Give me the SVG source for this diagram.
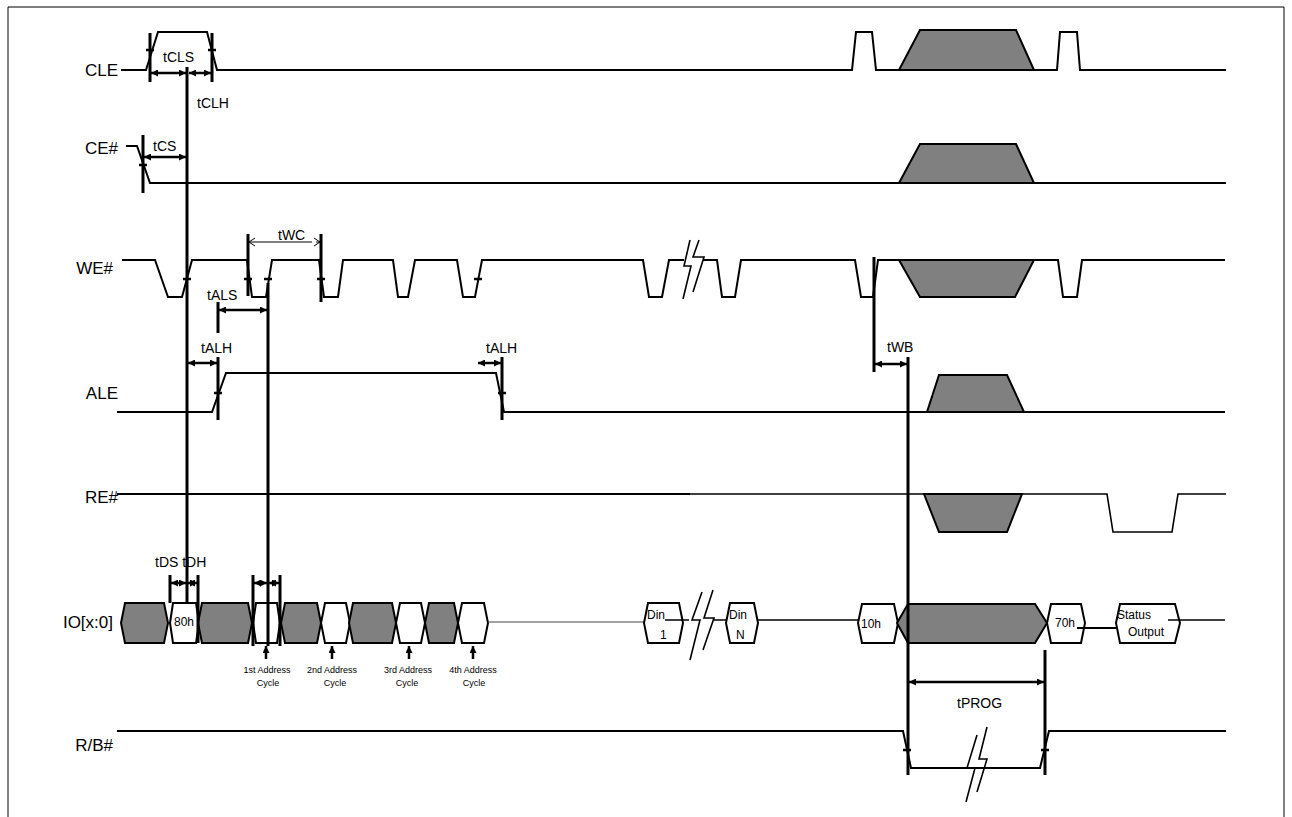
<svg xmlns="http://www.w3.org/2000/svg" width="1292" height="817" viewBox="0 0 1292 817">
<defs>
<marker id="ah" viewBox="0 0 7 7" refX="7" refY="3.5" markerWidth="7" markerHeight="7" markerUnits="userSpaceOnUse" orient="auto-start-reverse"><path d="M0,0 L7,3.5 L0,7 z" fill="#000"/></marker>
</defs>
<style>
.sig{fill:none;stroke:#000;stroke-width:2;stroke-linejoin:miter}
.thin{fill:none;stroke:#000;stroke-width:1.6}
.hair{fill:none;stroke:#444;stroke-width:1}
.gray{fill:#808080;stroke:#000;stroke-width:2}
.hexw{fill:#fff;stroke:#000;stroke-width:2}
.mk{fill:none;stroke:#000;stroke-width:3}
.tk{fill:none;stroke:#000;stroke-width:2.5}
.arr{fill:none;stroke:#000;stroke-width:2.5;marker-start:url(#ah);marker-end:url(#ah)}
.up{fill:none;stroke:#000;stroke-width:2.5;marker-end:url(#ah)}
.brk{fill:none;stroke:#000;stroke-width:1.6}
.lbl{font-family:"Liberation Sans",Arial,sans-serif;font-size:17px;fill:#000;text-anchor:end}
.t{font-family:"Liberation Sans",Arial,sans-serif;font-size:14px;fill:#000}
.s{font-family:"Liberation Sans",Arial,sans-serif;font-size:12px;fill:#000}
.a{font-family:"Liberation Sans",Arial,sans-serif;font-size:9px;fill:#000;text-anchor:middle}
</style>
<rect width="1292" height="817" fill="#fff"/>
<path d="M8,817 V7 H1284 V817" fill="none" stroke="#000" stroke-width="1"/>

<g id="CLE">
<text class="lbl" x="118" y="76">CLE</text>
<path class="sig" d="M121,70 H146 L158,32 H207 L217,70 H852 L856,32 H872 L876,70 H1057 L1060,32 H1077 L1080,70 H1226"/>
<path class="gray" d="M899,70 L920,30 H1016 L1034,70 Z"/>
</g>

<g id="CE">
<text class="lbl" x="118" y="154">CE#</text>
<path class="sig" d="M126,146 H137 L150,183 H1226"/>
<path class="gray" d="M899,183 L920,144 H1016 L1034,183 Z"/>
</g>

<g id="WE">
<text class="lbl" x="113" y="274">WE#</text>
<path class="sig" d="M122,260 H155 L168,297 H182 L192,260 H247 L252,297 H266 L272,260 H319 L324,297 H338 L343,260 H393 L398,297 H408 L415,260 H457 L463,297 H475 L482,260 H643 L649,297 H662 L669,260 H684"/>
<path class="sig" d="M703,260 H717 L722,297 H735 L741,260 H855 L861,297 H873 L878,260 H1058 L1063,297 H1077 L1082,260 H1225"/>
<path class="gray" d="M899,260 L920,297 H1015 L1034,260 Z"/>
<path class="brk" d="M690,240 L684,266 L691,266 L683,299"/>
<path class="brk" d="M699,240 L693,257 L704,257 L693,292"/>
</g>

<g id="ALE">
<text class="lbl" x="118" y="399">ALE</text>
<path class="sig" d="M117,412 H212 L226,373 H496 L504,412 H1225"/>
<path class="gray" d="M927,412 L939,375 H1007 L1024,412 Z"/>
</g>

<g id="RE">
<text class="lbl" x="118" y="503">RE#</text>
<path class="sig" stroke-width="2.6" d="M117,494 H690"/>
<path class="thin" d="M690,494 H1107 L1113,532 H1172 L1178,494 H1226"/>
<path class="gray" d="M924,494 L939,532 H1007 L1022,494 Z"/>
</g>

<g id="IO">
<text class="lbl" x="113" y="628">IO[x:0]</text>
<path class="gray" d="M121,623 L125,603 H164 L168,623 L164,643 H125 Z"/>
<path class="hexw" d="M170,623 L173,603 H196 L199,623 L196,643 H173 Z"/>
<path class="gray" d="M198,623 L202,603 H248 L252,623 L248,643 H202 Z"/>
<path class="hexw" d="M253,623 L256,603 H277 L280,623 L277,643 H256 Z"/>
<path class="gray" d="M281,623 L285,603 H317 L321,623 L317,643 H285 Z"/>
<path class="hexw" d="M321,623 L325,603 H346 L350,623 L346,643 H325 Z"/>
<path class="gray" d="M349,623 L353,603 H392 L396,623 L392,643 H353 Z"/>
<path class="hexw" d="M396,623 L400,603 H421 L425,623 L421,643 H400 Z"/>
<path class="gray" d="M425,623 L429,603 H454 L458,623 L454,643 H429 Z"/>
<path class="hexw" d="M458,623 L462,603 H484 L488,623 L484,643 H462 Z"/>
<path class="hair" d="M488,622 H644"/>
<path class="hexw" d="M644,623 L648,603 H679 L683,623 L679,643 H648 Z"/>
<path class="thin" d="M665,620 H689 M713,620 H726"/>
<path class="hexw" d="M726,623 L730,603 H754 L758,623 L754,643 H730 Z"/>
<path class="thin" d="M758,620 H858"/>
<path class="hexw" d="M858,623 L862,604 H894 L898,623 L894,643 H862 Z"/>
<path class="gray" d="M897,623 L908,604 H1035 L1047,623 L1035,643 H908 Z"/>
<path class="hexw" d="M1047,623 L1051,604 H1081 L1085,623 L1081,643 H1051 Z"/>
<path class="sig" stroke-width="1.6" d="M1077,628 H1116"/>
<path class="hexw" d="M1116,623 L1120,604 H1175 L1180,623 L1175,643 H1120 Z"/>
<path class="thin" d="M1168,620 H1225"/>
<path class="brk" d="M702,592 L692,620 L700,620 L690,660"/>
<path class="brk" d="M713,590 L704,618 L714,618 L703,650"/>
<text class="s" x="184" y="626" text-anchor="middle" font-size="10">80h</text>
<text class="s" x="647" y="619">Din</text>
<text class="s" x="660" y="639">1</text>
<text class="s" x="729" y="619">Din</text>
<text class="s" x="736" y="639">N</text>
<text class="s" x="861" y="628">10h</text>
<text class="s" x="1055" y="627">70h</text>
<text class="s" x="1117" y="619">Status</text>
<text class="s" x="1128" y="636">Output</text>
<text class="a" x="267" y="673">1st Address</text>
<text class="a" x="268" y="686">Cycle</text>
<text class="a" x="332" y="673">2nd Address</text>
<text class="a" x="335" y="686">Cycle</text>
<text class="a" x="408" y="673">3rd Address</text>
<text class="a" x="407" y="686">Cycle</text>
<text class="a" x="473" y="673">4th Address</text>
<text class="a" x="474" y="686">Cycle</text>
</g>

<g id="RB">
<text class="lbl" x="113" y="751">R/B#</text>
<path class="sig" stroke-width="2.6" d="M117,731 H528"/>
<path class="sig" d="M528,731 H903 L911,768 H1040 L1049,731 H1226"/>
<path class="brk" d="M977,735 L967,768 L975,768 L966,802"/>
<path class="brk" d="M987,727 L979,759 L987,759 L977,792"/>
</g>

<g id="connectors">
<path class="mk" d="M187,67 V603 M268,283 V646 M908,357 V775 M1045,650 V775 M874,257 V372"/>
<path class="mk" d="M150,33 V82 M212,33 V82 M143,135 V193 M218,357 V420 M502,357 V420 M218,302 V333 M248,234 V296 M321,234 V302"/>
<path class="mk" d="M170,575 V603 M198,575 V643 M253,575 V646 M280,575 V646"/>
<path class="tk" d="M146,50 H154 M208,50 H216 M139,165 H147 M183,279 H191 M244,279 H252 M264,279 H272 M317,279 H325 M474,279 H482 M214,393 H222 M498,393 H506 M903,750 H911 M1041,750 H1049"/>
<path class="arr" d="M151,73 H186"/>
<path class="arr" d="M189,73 H211"/>
<path class="arr" d="M144,157 H186"/>
<path class="arr" d="M219,310 H267"/>
<path class="arr" d="M188,363 H217"/>
<path class="arr" d="M478,363 H501"/>
<path class="arr" d="M875,364 H907"/>
<path class="arr" d="M171,583 H186"/>
<path class="arr" d="M188,583 H197"/>
<path class="arr" d="M254,583 H267"/>
<path class="arr" d="M269,583 H279"/>
<path class="arr" d="M909,682 H1044"/>
<path d="M249,242 H312 M316,242 H320" fill="none" stroke="#000" stroke-width="1"/>
<path d="M255,238 L249,242 L255,246 M314,238 L320,242 L314,246" fill="none" stroke="#000" stroke-width="1"/>
<path class="up" d="M266,659 V646"/>
<path class="up" d="M332,659 V646"/>
<path class="up" d="M409,659 V646"/>
<path class="up" d="M473,659 V646"/>
<text class="t" x="163" y="62">tCLS</text>
<text class="t" x="197" y="108">tCLH</text>
<text class="t" x="153" y="151">tCS</text>
<text class="t" x="278" y="240">tWC</text>
<text class="t" x="207" y="300">tALS</text>
<text class="t" x="201" y="353">tALH</text>
<text class="t" x="486" y="353">tALH</text>
<text class="t" x="887" y="352">tWB</text>
<text class="t" x="155" y="567">tDS tDH</text>
<text class="t" x="957" y="708">tPROG</text>
</g>
</svg>
